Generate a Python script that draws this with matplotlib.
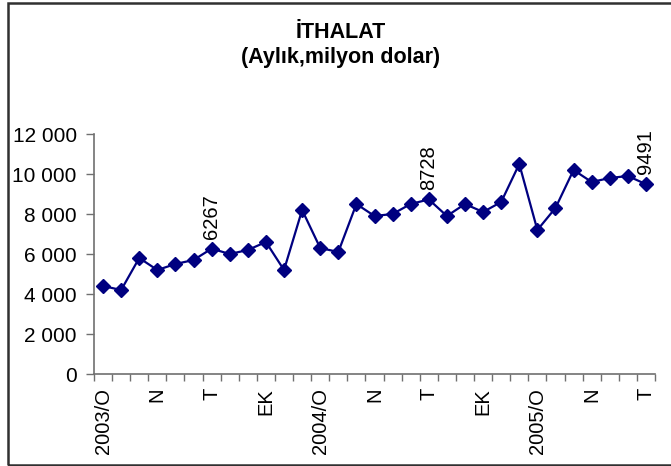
import matplotlib
matplotlib.use("Agg")
import matplotlib.pyplot as plt
from matplotlib.patches import Rectangle
import numpy as np

plt.rcParams['font.family'] = ['Liberation Sans', 'DejaVu Sans']

# Data: monthly imports, Jan 2003 - Jul 2005 (million USD)
values = [4400, 4200, 5800, 5200, 5500, 5700, 6267, 6000, 6200, 6600, 5200, 8200,
          6300, 6100, 8500, 7900, 8000, 8500, 8728, 7900, 8500, 8100, 8600, 10500,
          7200, 8300, 10200, 9600, 9800, 9900, 9491]
tick_labels = ["2003/O", "N", "T", "EK", "2004/O", "N", "T", "EK", "2005/O", "N", "T"]
tick_positions = [0, 3, 6, 9, 12, 15, 18, 21, 24, 27, 30]
labeled_points = [6, 18, 30]
yticks = [0, 2000, 4000, 6000, 8000, 10000, 12000]
title1 = "İTHALAT"
title2 = "(Aylık,milyon dolar)"

W, H = 671, 466
fig = plt.figure(figsize=(W / 100, H / 100), dpi=100)
fig.patch.set_facecolor("white")

ax = fig.add_axes([94 / W, 1 - 374 / H, (655 - 94) / W, (374 - 134) / H])
x = np.arange(len(values))
ax.plot(x, values, color="#000080", lw=1.6, marker="D", markersize=7.2,
        markerfacecolor="#000080", markeredgecolor="#000080", clip_on=False, zorder=3)

ax.set_xlim(-0.5, len(values) - 0.5)
ax.set_ylim(0, 12000)
ax.set_yticks(yticks)
ax.set_yticklabels([f"{v:,}".replace(",", " ") for v in yticks], fontsize=15)

ax.set_xticks(np.arange(-0.5, len(values), 1.0), minor=True)
ax.set_xticks(tick_positions)
ax.set_xticklabels(tick_labels, rotation=90, fontsize=14.5, va="top", ha="center")
ax.tick_params(axis="x", which="major", length=0, pad=10)
ax.tick_params(axis="x", which="minor", length=5, width=1, color="#707070", direction="out")
ax.tick_params(axis="y", length=6, width=1, color="#707070", direction="out", pad=6.5)

for s in ["top", "right"]:
    ax.spines[s].set_visible(False)
for s in ["left", "bottom"]:
    ax.spines[s].set_color("#707070")
    ax.spines[s].set_linewidth(1.2)

for i in labeled_points:
    ax.annotate(str(values[i]), (x[i], values[i]), xytext=(0, 7), textcoords="offset points",
                rotation=90, ha="center", va="bottom", fontsize=14.5)

fig.text(341 / W, 1 - 33 / H, title1, ha="center", va="center", fontsize=15.5, fontweight="bold")
fig.text(341 / W, 1 - 57 / H, title2, ha="center", va="center", fontsize=15.5, fontweight="bold")

rect = Rectangle((8 / W, 1 - 465 / H), 1.2, (465 - 3) / H, transform=fig.transFigure,
                 fill=False, edgecolor="#303030", lw=1.8, clip_on=False)
fig.add_artist(rect)

fig.savefig("out.png", dpi=100, facecolor="white")
